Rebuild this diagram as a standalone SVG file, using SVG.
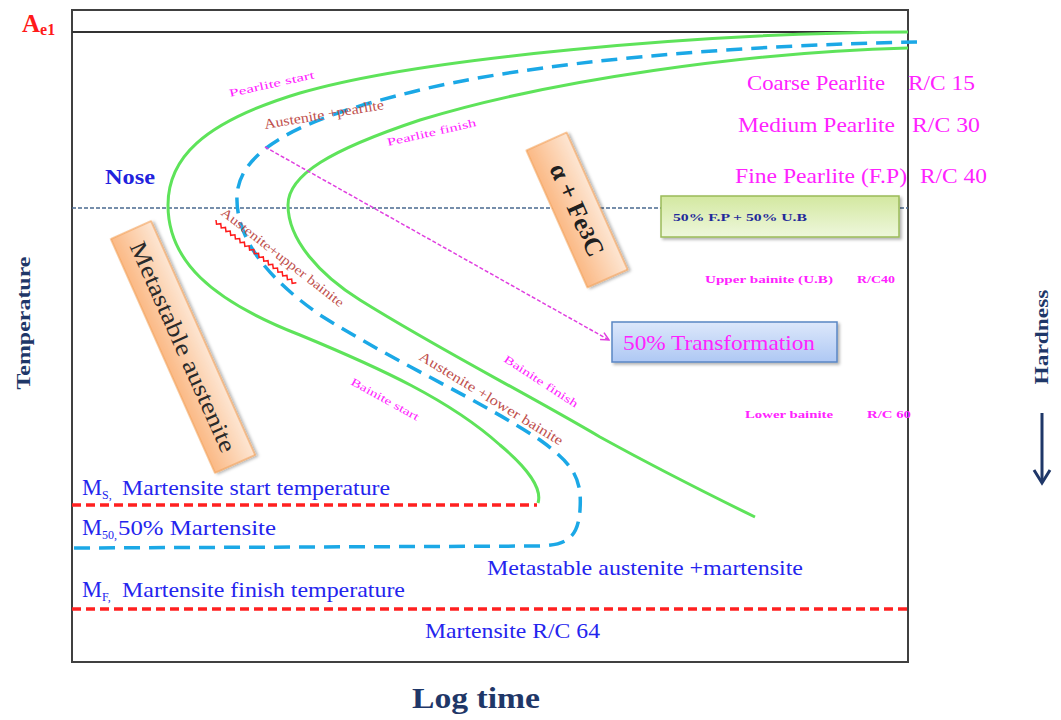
<svg xmlns="http://www.w3.org/2000/svg" width="1061" height="720" viewBox="0 0 1061 720">
<defs>
<style>
.serif{font-family:"Liberation Serif","Times New Roman",serif}
.curve{fill:none;stroke:#5ee35a;stroke-width:3}
.blue{fill:none;stroke:#1ba8e6;stroke-width:3.5;stroke-dasharray:16 9}
.red{fill:none;stroke:#ff2020;stroke-width:3.5;stroke-dasharray:9 5}
.mag{fill:#ff22ff}
.brn{fill:#c0504d}
.bl{fill:#2424ee}
.navy{fill:#1f3768}
</style>
<linearGradient id="gOr" x1="0" y1="0" x2="1" y2="0">
<stop offset="0" stop-color="#fbb985"/><stop offset="1" stop-color="#fde6d3"/>
</linearGradient>
<linearGradient id="gGr" x1="0" y1="0" x2="0" y2="1">
<stop offset="0" stop-color="#d3e8a0"/><stop offset="1" stop-color="#eef7dc"/>
</linearGradient>
<linearGradient id="gBl" x1="0" y1="0" x2="0" y2="1">
<stop offset="0" stop-color="#dde8fb"/><stop offset="1" stop-color="#aec8f4"/>
</linearGradient>
<filter id="sh" x="-20%" y="-20%" width="140%" height="140%">
<feDropShadow dx="2" dy="2" stdDeviation="1.5" flood-color="#000" flood-opacity="0.3"/>
</filter>
<marker id="arrPink" markerWidth="10" markerHeight="10" refX="9" refY="5" orient="auto" markerUnits="userSpaceOnUse">
<path d="M1,1 L9,5 L1,9" fill="none" stroke="#e040e0" stroke-width="1.5"/>
</marker>
</defs>
<rect width="1061" height="720" fill="#fff"/>

<g id="frame">
<rect x="72" y="10" width="836" height="652" fill="none" stroke="#404040" stroke-width="2"/>
<line x1="72" y1="32" x2="908" y2="32" stroke="#333" stroke-width="2"/>
<line x1="72" y1="208" x2="908" y2="208" stroke="#4a6a90" stroke-width="1.5" stroke-dasharray="4 2"/>
</g>

<g id="connectors">
<path class="curve" d="M908,32 C700,33 420,58 300,93 C200,123 168,160 168,205 C168,260 210,300 300,335 C380,368 450,400 500,445 C530,470 542,490 538,503"/>
<path class="curve" d="M908,48 C750,52 550,80 420,120 C330,150 288,175 288,205 C288,240 320,275 360,300 C440,350 520,390 600,437 C660,470 710,495 755,517"/>
<path class="blue" d="M917,42 C750,45 530,60 400,95 C300,120 240,150 237,195 C235,240 270,280 320,315 C400,365 480,400 540,440 C575,465 582,480 580,510 C578,535 570,545 540,546 L72,548"/>
<line class="red" x1="72" y1="505" x2="537" y2="505"/>
<line class="red" x1="72" y1="609" x2="908" y2="609"/>
<line x1="265" y1="147" x2="609" y2="340" stroke="#e040e0" stroke-width="1.5" stroke-dasharray="4 2" marker-end="url(#arrPink)"/>
<g id="hardness-arrow" stroke="#1f3768" stroke-width="3" fill="none">
<line x1="1042" y1="413" x2="1042" y2="482"/>
<path d="M1034,470 L1042,483 L1050,470"/>
</g>
</g>

<g id="axis-labels" class="serif">
<text x="22" y="32" font-size="25" font-weight="bold" fill="#ff1a1a">A<tspan font-size="16" dy="3">e1</tspan></text>
<text class="navy" x="0" y="0" font-size="19" font-weight="bold" text-anchor="middle" textLength="133" lengthAdjust="spacingAndGlyphs" transform="translate(30,323) rotate(-90)">Temperature</text>
<text class="navy" x="0" y="0" font-size="19" font-weight="bold" text-anchor="middle" textLength="95" lengthAdjust="spacingAndGlyphs" transform="translate(1048,337) rotate(-90)">Hardness</text>
<text class="navy" x="412" y="708" font-size="29" font-weight="bold" textLength="128" lengthAdjust="spacingAndGlyphs">Log time</text>
<text x="105" y="184" font-size="22" font-weight="bold" fill="#2222dd" textLength="50" lengthAdjust="spacingAndGlyphs">Nose</text>
</g>

<g id="curve-labels" class="serif">
<text class="mag" font-size="11" transform="translate(230,97) rotate(-12.5)" textLength="87" lengthAdjust="spacingAndGlyphs">Pearlite  start</text>
<text class="brn" font-size="14" transform="translate(265,129) rotate(-9.5)" textLength="121" lengthAdjust="spacingAndGlyphs">Austenite +pearlite</text>
<text class="mag" font-size="11" transform="translate(388,146) rotate(-12.7)" textLength="91" lengthAdjust="spacingAndGlyphs">Pearlite finish</text>
<text class="brn" font-size="13" transform="translate(220,214) rotate(38)" textLength="152" lengthAdjust="spacingAndGlyphs">Austenite+upper bainite</text>
<g transform="translate(216,220) rotate(38)">
<polyline points="0,0 3,3 6,0 9,3 12,0 15,3 18,0 21,3 24,0 27,3 30,0 33,3 36,0 39,3 42,0 45,3 48,0 51,3 54,0 57,3 60,0 63,3 66,0 69,3 72,0 75,3 78,0 81,3 84,0 87,3 90,0 93,3 96,0 99,3 102,0" fill="none" stroke="#ff1a1a" stroke-width="1.5"/>
</g>
<text class="mag" font-size="11" transform="translate(350,384) rotate(29)" textLength="76" lengthAdjust="spacingAndGlyphs">Bainite start</text>
<text class="brn" font-size="14" transform="translate(418,359) rotate(31.5)" textLength="166" lengthAdjust="spacingAndGlyphs">Austenite +lower  bainite</text>
<text class="mag" font-size="11" transform="translate(503,361) rotate(33)" textLength="86" lengthAdjust="spacingAndGlyphs">Bainite finish</text>
</g>

<g id="right-labels" class="serif mag">
<text x="747" y="90" font-size="22" textLength="138" lengthAdjust="spacingAndGlyphs">Coarse Pearlite</text>
<text x="908" y="90" font-size="22" textLength="67" lengthAdjust="spacingAndGlyphs">R/C 15</text>
<text x="738" y="132" font-size="22" textLength="157" lengthAdjust="spacingAndGlyphs">Medium  Pearlite</text>
<text x="912" y="132" font-size="22" textLength="68" lengthAdjust="spacingAndGlyphs">R/C 30</text>
<text x="735" y="183" font-size="22" textLength="172" lengthAdjust="spacingAndGlyphs">Fine Pearlite  (F.P)</text>
<text x="920" y="183" font-size="22" textLength="67" lengthAdjust="spacingAndGlyphs">R/C 40</text>
<text x="705" y="283" font-size="11" font-weight="bold" textLength="128" lengthAdjust="spacingAndGlyphs">Upper bainite (U.B)</text>
<text x="857" y="283" font-size="11" font-weight="bold" textLength="38" lengthAdjust="spacingAndGlyphs">R/C40</text>
<text x="745" y="418" font-size="11" font-weight="bold" textLength="88" lengthAdjust="spacingAndGlyphs">Lower bainite</text>
<text x="867" y="418" font-size="11" font-weight="bold" textLength="44" lengthAdjust="spacingAndGlyphs">R/C 60</text>
</g>

<g id="martensite-labels" class="serif bl">
<text x="82" y="495" font-size="23" textLength="20" lengthAdjust="spacingAndGlyphs">M</text>
<text x="102" y="499" font-size="12">S,</text>
<text x="122" y="495" font-size="22" textLength="268" lengthAdjust="spacingAndGlyphs">Martensite  start temperature</text>
<text x="82" y="535" font-size="23" textLength="20" lengthAdjust="spacingAndGlyphs">M</text>
<text x="102" y="539" font-size="12">50,</text>
<text x="118" y="535" font-size="22" textLength="158" lengthAdjust="spacingAndGlyphs">50% Martensite</text>
<text x="82" y="597" font-size="23" textLength="20" lengthAdjust="spacingAndGlyphs">M</text>
<text x="102" y="601" font-size="12">F,</text>
<text x="122" y="597" font-size="22" textLength="283" lengthAdjust="spacingAndGlyphs">Martensite finish temperature</text>
<text x="487" y="575" font-size="22" textLength="316" lengthAdjust="spacingAndGlyphs">Metastable  austenite  +martensite</text>
<text x="425" y="638" font-size="22" textLength="175" lengthAdjust="spacingAndGlyphs">Martensite R/C 64</text>
</g>

<g id="node-metastable" transform="translate(183,347) rotate(-24)">
<rect x="-22" y="-128" width="44" height="256" fill="url(#gOr)" stroke="#f3a35c" stroke-width="1.2" filter="url(#sh)"/>
<text class="serif" x="0" y="0" font-size="24" fill="#2a2a2a" text-anchor="middle" dominant-baseline="central" transform="rotate(90)" textLength="228" lengthAdjust="spacingAndGlyphs">Metastable austenite</text>
</g>

<g id="node-alpha" transform="translate(577,210) rotate(-24)">
<rect x="-22" y="-75" width="44" height="150" fill="url(#gOr)" stroke="#f3a35c" stroke-width="1.2" filter="url(#sh)"/>
<text class="serif" x="0" y="0" font-size="26" font-weight="bold" fill="#202020" text-anchor="middle" dominant-baseline="central" transform="rotate(90)">α + Fe<tspan font-size="21">3</tspan>C</text>
</g>

<g id="node-fpub">
<rect x="661" y="196" width="238" height="41" fill="url(#gGr)" stroke="#9bbb59" stroke-width="1.5" filter="url(#sh)"/>
<text class="serif" x="673" y="221" font-size="10" font-weight="bold" fill="#1f2a9a" textLength="134" lengthAdjust="spacingAndGlyphs">50% F.P + 50% U.B</text>
</g>

<g id="node-50transform">
<rect x="612" y="322" width="225" height="40" fill="url(#gBl)" stroke="#5a86c4" stroke-width="1.5" filter="url(#sh)"/>
<text class="serif mag" x="623" y="350" font-size="22" textLength="192" lengthAdjust="spacingAndGlyphs">50% Transformation</text>
</g>
</svg>
